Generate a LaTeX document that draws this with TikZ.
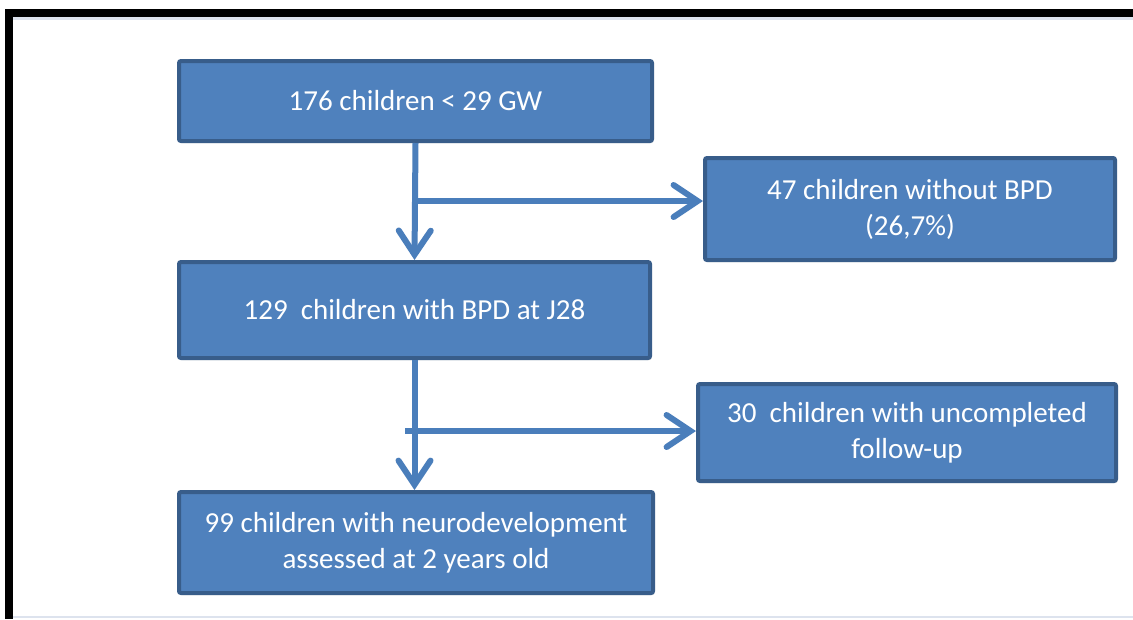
\documentclass[tikz,border=0pt]{standalone}
\usepackage{fontspec}
\setmainfont{Carlito}
\usetikzlibrary{arrows.meta,shadows}
\definecolor{boxfill}{HTML}{4F81BD}
\definecolor{boxline}{HTML}{385D8A}
\definecolor{arrowcol}{HTML}{4A7EBB}
\definecolor{frameline}{HTML}{DDE3EE}
\tikzset{
  box/.style={draw=boxline, fill=boxfill, line width=4pt, rounded corners=2pt,
    text=white, align=center, inner sep=0pt,
    font=\fontsize{29}{36}\selectfont,
    drop shadow={shadow xshift=1.5pt, shadow yshift=-2pt, opacity=0.25}},
  flow/.style={draw=arrowcol, line width=6pt,
    -{Straight Barb[length=24pt, width=32pt, line cap=round]}},
  plain/.style={draw=arrowcol, line width=6pt}
}
\begin{document}
\begin{tikzpicture}[x=1pt, y=-1pt]
\useasboundingbox (0,0) rectangle (1133,619);
\fill[white] (0,0) rectangle (1133,619);
% frame
\fill[frameline] (13,17) rectangle (1133,19.5);
\fill[frameline] (13,616) rectangle (1133,618);
\fill[black] (5,9) rectangle (1133,17);
\fill[black] (5,9) rectangle (13,619);
% boxes
\node[box, minimum width=473pt, minimum height=80pt] (b1) at (415.5,101) {176 children < 29 GW};
\node[box, minimum width=410pt, minimum height=102pt] (b2) at (910,209) {47 children without BPD\\(26,7\%)};
\node[box, minimum width=471pt, minimum height=96pt] (b3) at (414.5,310) {129\ \ children with BPD at J28};
\node[box, minimum width=418pt, minimum height=97pt] (b4) at (907,432.5) {30\ \ children with uncompleted\\follow-up};
\node[box, minimum width=474pt, minimum height=101pt] (b5) at (416,542.5) {99 children with neurodevelopment\\assessed at 2 years old};
% branch points
\coordinate (j1) at (415,201);
\coordinate (j2) at (405,431);
% connectors
\draw[flow] (b1.south) -- (b3.north);
\draw[flow] (j1) -- (j1 -| b2.west);
\draw[flow] (b3.south) -- (b3.south |- b5.north);
\draw[flow] (j2) -- (j2 -| b4.west);
\end{tikzpicture}
\end{document}
